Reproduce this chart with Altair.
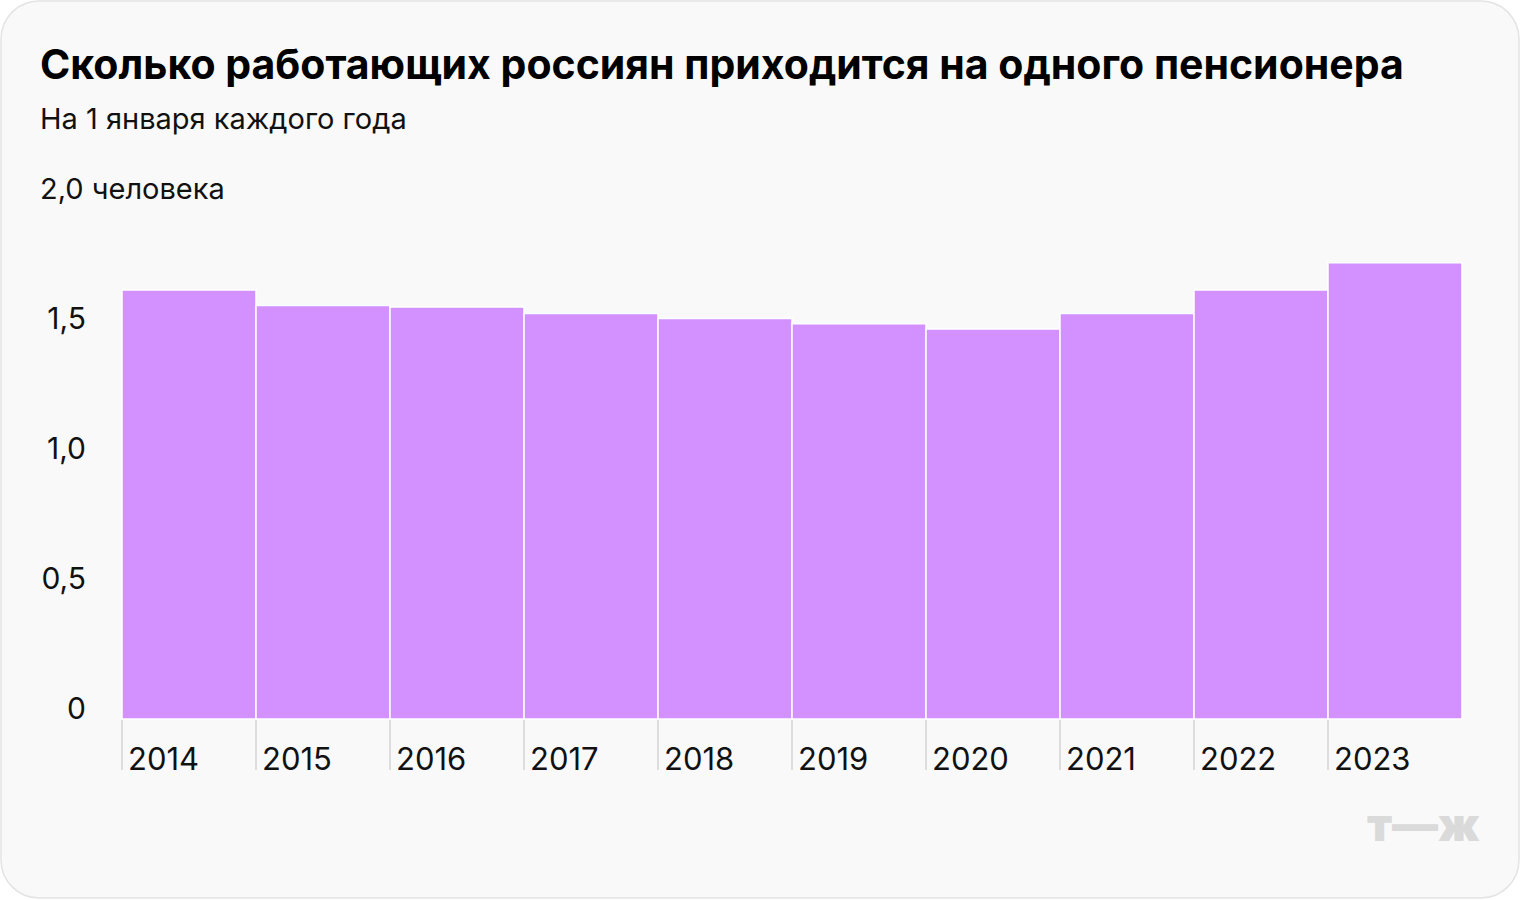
import altair as alt
import pandas as pd

years = ["2014", "2015", "2016", "2017", "2018", "2019", "2020", "2021", "2022", "2023"]
values = [1.65, 1.59, 1.585, 1.56, 1.54, 1.52, 1.50, 1.56, 1.65, 1.755]
y_ticks = [0, 0.5, 1.0, 1.5]
y_tick_labels = ["0", "0,5", "1,0", "1,5"]
top_label = "2,0 человека"
title = "Сколько работающих россиян приходится на одного пенсионера"
subtitle = "На 1 января каждого года"
logo = "т—ж"

W, H = 1340, 520
FONT = "Inter"

df = pd.DataFrame({"year": years, "value": values})
ydf = pd.DataFrame({"v": y_ticks, "label": y_tick_labels})

xscale = alt.Scale(domain=years, paddingInner=0, paddingOuter=0)
yscale = alt.Scale(domain=[0, 2])

card = alt.Chart(pd.DataFrame({"a": [0]})).mark_rect(
    fill="#f9f9f9", stroke="#e4e4e4", strokeWidth=1.5, cornerRadius=38
).encode(
    x=alt.value(-121), x2=alt.value(W + 57), y=alt.value(-198), y2=alt.value(H + 179)
)

bars = alt.Chart(df).mark_bar(
    color="#d291ff", stroke="#ffffff", strokeWidth=1.5, opacity=1
).encode(
    x=alt.X("year:N", scale=xscale, axis=None),
    y=alt.Y("value:Q", scale=yscale, axis=None),
)

ticks = alt.Chart(df).mark_rule(color="#dddddd", strokeWidth=2).encode(
    x=alt.X("year:N", scale=xscale, bandPosition=0, axis=None),
    y=alt.value(H + 1),
    y2=alt.value(H + 51),
)

xlabels = alt.Chart(df).mark_text(
    align="left", baseline="alphabetic", dx=6, font=FONT, fontSize=31, color="#111111"
).encode(
    x=alt.X("year:N", scale=xscale, bandPosition=0, axis=None),
    y=alt.value(H + 51),
    text="year:N",
)

ylabels = alt.Chart(ydf).mark_text(
    align="right", baseline="alphabetic", font=FONT, fontSize=30, color="#111111"
).encode(
    x=alt.value(-36),
    y=alt.Y("v:Q", scale=yscale, axis=None),
    text="label:N",
)

ytop = alt.Chart(pd.DataFrame({"v": [2.0], "label": [top_label]})).mark_text(
    align="left", baseline="alphabetic", font=FONT, fontSize=29, color="#111111"
).encode(
    x=alt.value(-82),
    y=alt.Y("v:Q", scale=yscale, axis=None),
    text="label:N",
)

title_t = alt.Chart(pd.DataFrame({"t": [title]})).mark_text(
    align="left", baseline="alphabetic", font=FONT, fontSize=41, fontWeight="bold", color="#000000"
).encode(x=alt.value(-82), y=alt.value(-120), text="t:N")

sub_t = alt.Chart(pd.DataFrame({"t": [subtitle]})).mark_text(
    align="left", baseline="alphabetic", font=FONT, fontSize=29, color="#111111"
).encode(x=alt.value(-82), y=alt.value(-70), text="t:N")

logo_t = alt.Chart(pd.DataFrame({"t": [logo]})).mark_text(
    align="right", baseline="alphabetic", font=FONT, fontSize=46, fontWeight=900, color="#dadada"
).encode(x=alt.value(W + 18), y=alt.value(H + 122), text="t:N")

chart = alt.layer(card, bars, ticks, xlabels, ylabels, ytop, title_t, sub_t, logo_t).properties(
    width=W, height=H,
    padding={"left": 122, "top": 199, "right": 58, "bottom": 181},
    autosize=alt.AutoSizeParams(type="none"),
    background="#ffffff",
).configure_view(stroke=None)

chart.save("out.html", embed_options={"renderer": "svg", "actions": False})
